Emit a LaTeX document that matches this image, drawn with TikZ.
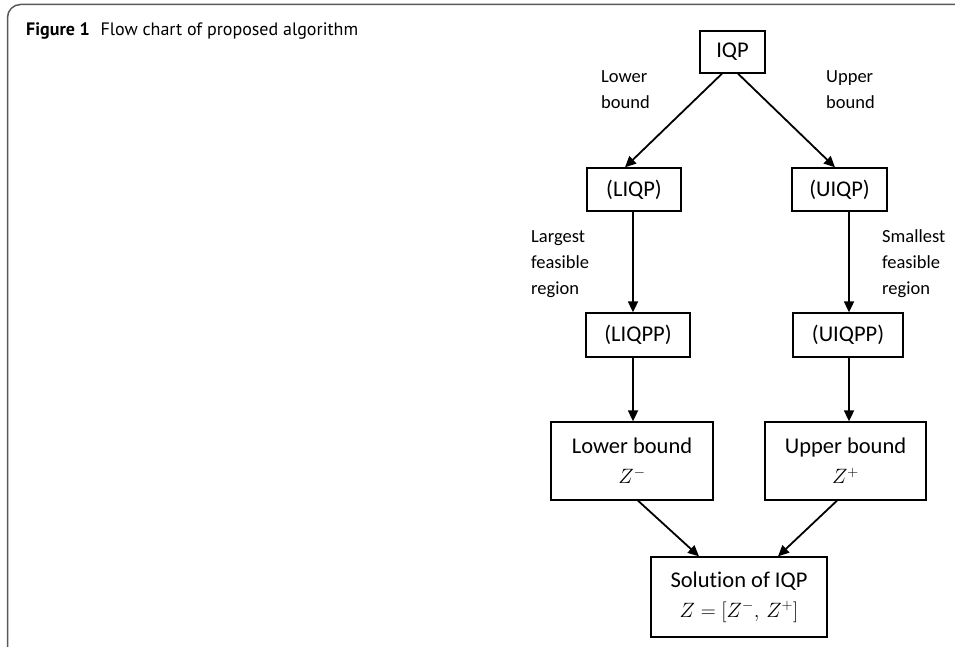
\documentclass[tikz,border=0pt]{standalone}
\usepackage{fontspec}
\setmainfont{Carlito}[Ligatures={CommonOff,ContextualOff}]
\newfontfamily\capfont{PT Sans}
\usetikzlibrary{arrows.meta,calc}
\tikzset{
  box/.style={draw=black, line width=1.3pt, fill=white, inner sep=0pt, align=center, font=\fontsize{22.5}{30}\selectfont},
  lbl/.style={align=left, anchor=west, inner sep=0pt, font=\fontsize{18.5}{26}\selectfont},
  arr/.style={line width=1.8pt, -{Triangle[length=11pt,width=10pt]}},
}
\begin{document}
\begin{tikzpicture}[x=1pt,y=-1pt]
\useasboundingbox (0,0) rectangle (955,647);
\begin{scope}
\clip (0,0) rectangle (955,647);
\draw[line width=1.5pt, draw=black!65, rounded corners=13pt] (7.5,4.5) rectangle (980,665);
\end{scope}
\node[anchor=base west, inner sep=0pt, font=\capfont\fontsize{18}{22}\selectfont] (cap) at (26,36) {\textbf{Figure 1}\hspace{0.6em}Flow chart of proposed algorithm};

\node[box, minimum width=65pt, minimum height=42pt] (IQP) at (732.5,52) {IQP};
\node[box, minimum width=94pt, minimum height=43pt] (LIQP) at (634,189.5) {(LIQP)};
\node[box, minimum width=95pt, minimum height=43pt] (UIQP) at (839.5,189.5) {(UIQP)};
\node[box, minimum width=104pt, minimum height=44pt] (LIQPP) at (638,335) {(LIQPP)};
\node[box, minimum width=110pt, minimum height=44pt] (UIQPP) at (848,335) {(UIQPP)};
\node[box, minimum width=162pt, minimum height=78pt] (LB) at (632,461) {Lower bound\\$Z^{-}$};
\node[box, minimum width=161pt, minimum height=78pt] (UB) at (845.5,461) {Upper bound\\$Z^{+}$};
\node[box, minimum width=176pt, minimum height=80pt] (SOL) at (739,597) {Solution of IQP\\$Z=[Z^{-},\,Z^{+}]$};

\node[lbl] (l1) at (601,89.5) {Lower\\bound};
\node[lbl] (l2) at (826,89.5) {Upper\\bound};
\node[lbl] (l3) at (531,264) {Largest\\feasible\\region};
\node[lbl] (l4) at (882,264) {Smallest\\feasible\\region};

\coordinate (a1) at ($(IQP.south)+(-10.5,0)$);
\coordinate (a2) at ($(LIQP.north)+(-9,0)$);
\coordinate (b1) at ($(IQP.south)+(5.5,0)$);
\coordinate (b2) at ($(UIQP.north)+(-4.5,0)$);
\draw[arr] (a1) -- (a2);
\draw[arr] (b1) -- (b2);

\coordinate (c1) at ($(LIQP.south)+(-1,0)$);
\coordinate (d1) at ($(UIQP.south)+(9.5,0)$);
\draw[arr] (c1) -- (c1 |- LIQPP.north);
\draw[arr] (d1) -- (d1 |- UIQPP.north);
\draw[arr] (c1 |- LIQPP.south) -- (c1 |- LB.north);
\draw[arr] (d1 |- UIQPP.south) -- (d1 |- UB.north);

\coordinate (e1) at ($(LB.south)+(6,0)$);
\coordinate (e2) at ($(SOL.north)+(-40,0)$);
\coordinate (f1) at ($(UB.south)+(-8.5,0)$);
\coordinate (f2) at ($(SOL.north)+(39,0)$);
\draw[arr] (e1) -- (e2);
\draw[arr] (f1) -- (f2);
\end{tikzpicture}
\end{document}
